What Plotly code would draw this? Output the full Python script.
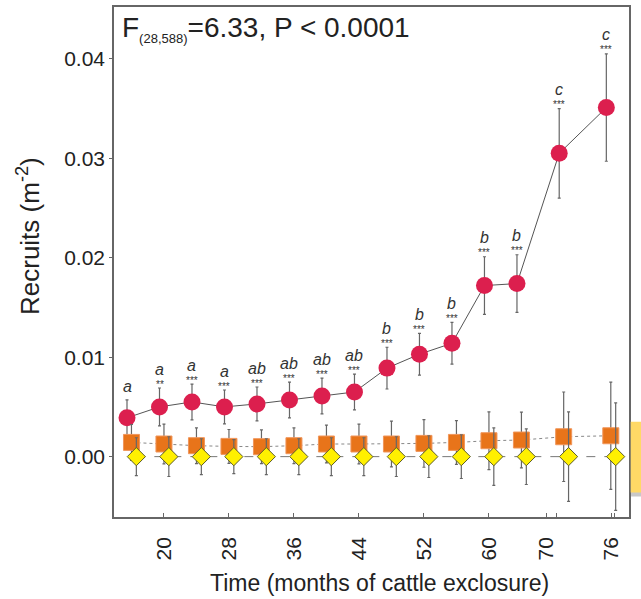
import plotly.graph_objects as go

# ---------------- data ----------------
months = [16, 20, 24, 28, 32, 36, 40, 44, 48, 52, 56, 60, 64, 69.2, 75.0]

red_vals = [0.0039, 0.0050, 0.0055, 0.0050, 0.0053, 0.0057, 0.0061, 0.0065,
            0.0089, 0.0103, 0.0114, 0.0172, 0.0174, 0.0305, 0.0351]
red_err = [0.0018, 0.0019, 0.0018, 0.0017, 0.0017, 0.0018, 0.0018, 0.0018,
           0.0021, 0.0021, 0.0021, 0.0029, 0.0029, 0.0045, 0.0054]

orange_vals = [0.00143, 0.00127, 0.0011, 0.00103, 0.0010, 0.0011, 0.00127, 0.00127,
               0.00127, 0.00133, 0.00143, 0.0016, 0.00167, 0.0020, 0.0021]
orange_err = [0.0018, 0.0020, 0.0018, 0.0017, 0.0017, 0.0018, 0.0019, 0.0020,
              0.0023, 0.0024, 0.0022, 0.0029, 0.0028, 0.0045, 0.0054]

yellow_vals = [0.0] * 15
yellow_err = [0.0019, 0.0020, 0.0018, 0.0017, 0.0018, 0.0018, 0.0019, 0.0019,
              0.0020, 0.0021, 0.0022, 0.0029, 0.0028, 0.0045, 0.0054]

letters = ["a", "a", "a", "a", "ab", "ab", "ab", "ab", "b", "b", "b", "b", "b", "c", "c"]
stars = ["", "**", "***", "***", "***", "***", "***", "***", "***", "***",
         "***", "***", "***", "***", "***"]

tick_pos = [20, 28, 36, 44, 52, 60, 67.1, 75.1]
tick_labels = ["20", "28", "36", "44", "52", "60", "70", "76"]
minor_tick_pos = [68.3, 75.4]

FONT = "Liberation Sans, Arial, sans-serif"

red_x = [m - 0.55 for m in months]
yel_x = [m + 0.6 for m in months]

fig = go.Figure()

fig.add_trace(go.Scatter(
    x=red_x, y=red_vals, mode="lines+markers",
    line=dict(color="#555555", width=1),
    marker=dict(symbol="circle", size=17, color="#DC1F4E", line=dict(width=0)),
    error_y=dict(type="data", array=red_err, color="#666666", thickness=1.2, width=1.5),
))
fig.add_trace(go.Scatter(
    x=months, y=orange_vals, mode="lines+markers",
    line=dict(color="#888888", width=1, dash="dot"),
    marker=dict(symbol="square", size=16, color="#E8741A", line=dict(width=1, color="#F0955A")),
    error_y=dict(type="data", array=orange_err, color="#666666", thickness=1.2, width=1.5),
))
fig.add_trace(go.Scatter(
    x=yel_x, y=yellow_vals, mode="lines+markers",
    line=dict(color="#777777", width=1, dash="dash"),
    marker=dict(symbol="diamond", size=14, color="#FFF000", line=dict(width=1, color="#5C5C2A")),
    error_y=dict(type="data", array=yellow_err, color="#666666", thickness=1.2, width=1.5),
))

annotations = []
for x, v, e, L, s in zip(red_x, red_vals, red_err, letters, stars):
    top = v + e
    if s:
        annotations.append(dict(x=x, y=top, xref="x", yref="y", text=s, showarrow=False,
                                yanchor="middle", yshift=4,
                                font=dict(family=FONT, size=10, color="#333333")))
        ls = 19
    else:
        ls = 13
    annotations.append(dict(x=x, y=top, xref="x", yref="y", text="<i>%s</i>" % L,
                            showarrow=False, yanchor="middle", yshift=ls,
                            font=dict(family=FONT, size=16, color="#333333")))

annotations.append(dict(
    x=0.0117, y=1, xref="paper", yref="paper", xanchor="left", yanchor="top", yshift=-3,
    text="F<sub><span style='font-size:13px'>(28,588)</span></sub>=6.33, P &lt; 0.0001",
    showarrow=False, font=dict(family=FONT, size=28, color="#222222")))

annotations.append(dict(
    x=0.5155, y=0, xref="paper", yref="paper", xanchor="center", yanchor="middle", yshift=-66,
    text="Time (months of cattle exclosure)", showarrow=False,
    font=dict(family=FONT, size=23, color="#222222")))

annotations.append(dict(
    x=-0.166, y=0.55, xref="paper", yref="paper", xanchor="center", yanchor="middle",
    text="Recruits (m<sup>-2</sup>)", textangle=-90, showarrow=False,
    font=dict(family=FONT, size=26, color="#222222")))

shapes = [
    dict(type="rect", xref="paper", yref="paper", x0=1.004, x1=1.03, y0=0.040, y1=0.181,
         fillcolor="#C8C8C8", line=dict(width=0), layer="below"),
    dict(type="rect", xref="paper", yref="paper", x0=1.0033, x1=1.03, y0=0.048, y1=0.187,
         fillcolor="#FFD966", line=dict(width=0), layer="above"),
]

fig.update_layout(
    width=641, height=599,
    margin=dict(l=114, r=12, t=5, b=82),
    paper_bgcolor="white", plot_bgcolor="white",
    showlegend=False,
    font=dict(family=FONT, size=21, color="#222222"),
    annotations=annotations,
    shapes=shapes,
)
fig.update_xaxes(
    range=[13.85, 77.24], showgrid=False, zeroline=False,
    showline=True, mirror=True, linecolor="#666666", linewidth=1.5,
    tickmode="array", tickvals=tick_pos, ticktext=tick_labels,
    ticks="inside", ticklen=4, tickcolor="#666666", tickangle=-90,
    ticklabelstandoff=10,
    tickfont=dict(family=FONT, size=21, color="#222222"),
    minor=dict(tickmode="array", tickvals=minor_tick_pos, ticks="inside", ticklen=4,
               tickcolor="#666666"),
)
fig.update_yaxes(
    range=[-0.00607, 0.04521], showgrid=False, zeroline=False,
    showline=True, mirror=True, linecolor="#666666", linewidth=1.5,
    tickmode="array", tickvals=[0, 0.01, 0.02, 0.03, 0.04],
    ticktext=["0.00", "0.01", "0.02", "0.03", "0.04"],
    ticks="outside", ticklen=3, tickcolor="#666666",
    tickfont=dict(family=FONT, size=21, color="#222222"),
)

fig.write_html("out.html")
